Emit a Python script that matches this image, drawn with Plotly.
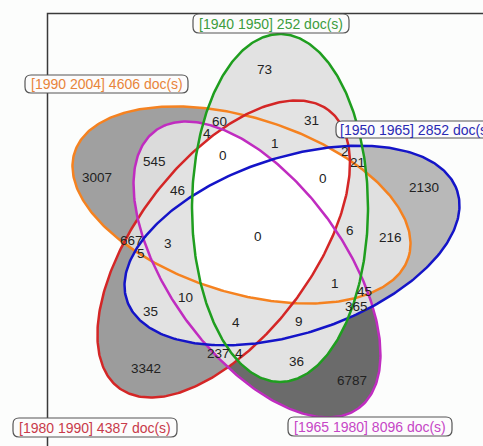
import numpy as np
import plotly.graph_objects as go

# ---------------- data ----------------
SET_KEYS = ["G", "B", "M", "R", "O"]
SET_NAMES = ["[1940 1950]", "[1950 1965]", "[1965 1980]", "[1980 1990]", "[1990 2004]"]
SET_TOTALS = [252, 2852, 8096, 4387, 4606]

REGION_SETS = ["G", "GO", "GMO", "GR", "GMRO", "GRO", "MO", "O", "MRO", "GBRO",
               "GBR", "GB", "B", "GBMRO", "GBO", "BO", "RO", "BRO", "BMRO", "BMR",
               "BR", "GBMO", "BMO", "BM", "GBMR", "GBM", "R", "MR", "GMR", "GM", "M"]
REGION_COUNTS = [73, 60, 4, 31, 0, 1, 545, 3007, 46, 0,
                 2, 21, 2130, 0, 6, 216, 667, 5, 3, 10,
                 35, 1, 45, 365, 4, 9, 3342, 237, 4, 36, 6787]

# ---------------- layout / style ----------------
W, H = 483, 446
ELLIPSES = {  # cx, cy, semi-major, semi-minor, angle (deg, screen coords)
    "G": (280, 208, 174, 88, 90.0),
    "B": (292, 245.5, 174, 88, -18.3),
    "M": (257, 269.5, 172, 87, 53.8),
    "R": (223.7, 249, 174, 88, -52.9),
    "O": (241.5, 205, 175, 87.5, 17.4),
}
LINE_COLORS = {"G": "#1f9e1f", "B": "#1414c8", "M": "#c02cc0", "R": "#d42626", "O": "#f58220"}
TEXT_COLORS = {"G": "#3d9d3d", "B": "#2a2ab4", "M": "#c646c6", "R": "#c83a4a", "O": "#e8843a"}
LABEL_POS = [(264, 69), (219, 121), (207, 133), (311, 120), (223, 155), (275, 143), (154, 161),
             (97, 177), (177, 190), (323, 178), (345, 151), (357, 162), (424, 187), (258, 236),
             (350, 230), (390, 237), (131, 240), (141, 253), (168, 243), (185, 297), (150, 311),
             (335, 283), (364, 291), (356, 306), (236, 322), (299, 321), (146, 368), (218, 353),
             (239, 353), (296, 361), (352, 380)]
SET_BOX = {"G": (193, 14, 349, 33), "O": (25, 75, 188, 93), "B": (336, 121, 492, 138),
           "R": (13, 418, 177, 437), "M": (288, 417, 452, 436)}

def inside(k, x, y):
    cx, cy, a, b, ang = ELLIPSES[k]
    t = np.deg2rad(ang)
    dx, dy = x - cx, y - cy
    u = dx*np.cos(t) + dy*np.sin(t)
    v = -dx*np.sin(t) + dy*np.cos(t)
    return (u/a)**2 + (v/b)**2 <= 1

bit = {k: 1 << i for i, k in enumerate(SET_KEYS)}
count_of = {sum(bit[c] for c in s): n for s, n in zip(REGION_SETS, REGION_COUNTS)}

xs = np.arange(W) + 0.5
ys = np.arange(H) + 0.5
X, Y = np.meshgrid(xs, ys)
mask = np.zeros(X.shape, dtype=int)
for k in SET_KEYS:
    mask |= np.where(inside(k, X, Y), bit[k], 0)
z = np.full(X.shape, np.nan)
for m, n in count_of.items():
    z[mask == m] = n

zmax = max(REGION_COUNTS)
fig = go.Figure()
fig.add_trace(go.Heatmap(
    x=xs, y=ys, z=z, zmin=0, zmax=zmax, zsmooth=False, showscale=False, hoverinfo="skip",
    colorscale=[[0, "#ffffff"], [0.0001, "#e3e3e3"], [0.1, "#d9d9d9"], [0.314, "#b8b8b8"],
                [0.443, "#a0a0a0"], [0.492, "#9c9c9c"], [1, "#6b6b6b"]]))

tt = np.linspace(0, 2*np.pi, 361)
for k in ["O", "R", "M", "B", "G"]:
    cx, cy, a, b, ang = ELLIPSES[k]
    t = np.deg2rad(ang)
    u, v = a*np.cos(tt), b*np.sin(tt)
    fig.add_trace(go.Scatter(x=cx + u*np.cos(t) - v*np.sin(t), y=cy + u*np.sin(t) + v*np.cos(t),
                             mode="lines", line=dict(color=LINE_COLORS[k], width=2.5), hoverinfo="skip"))

for n, (x, y) in zip(REGION_COUNTS, LABEL_POS):
    fig.add_annotation(x=x, y=y, text=str(n), showarrow=False,
                       font=dict(family="Liberation Sans, Arial", size=13.5, color="#222222"))

# frame
shapes = [dict(type="path", path=f"M47.5,{H} L47.5,13.5 L{W},13.5", line=dict(color="#3a3a3a", width=1.5),
               layer="above")]
def rr(x0, y0, x1, y1, r=6):
    return (f"M{x0+r},{y0} L{x1-r},{y0} Q{x1},{y0} {x1},{y0+r} L{x1},{y1-r} Q{x1},{y1} {x1-r},{y1} "
            f"L{x0+r},{y1} Q{x0},{y1} {x0},{y1-r} L{x0},{y0+r} Q{x0},{y0} {x0+r},{y0} Z")
for k, name, tot in zip(SET_KEYS, SET_NAMES, SET_TOTALS):
    x0, y0, x1, y1 = SET_BOX[k]
    shapes.append(dict(type="path", path=rr(x0, y0, x1, y1), line=dict(color="#555555", width=1.2),
                       fillcolor="#fcfcfc", layer="above"))
    if k == "B":
        ax, anchor = x0 + 2, "left"
    else:
        ax, anchor = (x0 + x1) / 2, "center"
    fig.add_annotation(x=ax, y=(y0 + y1) / 2, text=f"{name} {tot} doc(s)", showarrow=False, xanchor=anchor,
                       font=dict(family="Liberation Sans, Arial", size=14, color=TEXT_COLORS[k]))

fig.update_layout(width=W, height=H, margin=dict(l=0, r=0, t=0, b=0), showlegend=False,
                  paper_bgcolor="#fcfdfc", plot_bgcolor="#fcfdfc", shapes=shapes,
                  xaxis=dict(range=[0, W], visible=False, fixedrange=True),
                  yaxis=dict(range=[H, 0], visible=False, fixedrange=True))
fig.write_html("out.html", config={"displayModeBar": False},
               post_script="document.body.style.margin='0';document.body.style.overflow='hidden';")
